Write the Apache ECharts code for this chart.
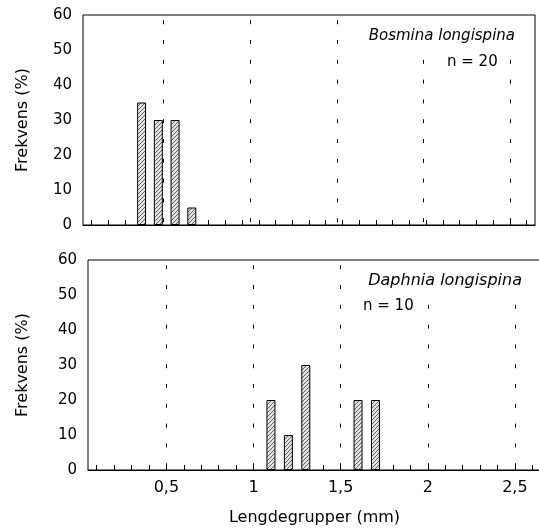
<!DOCTYPE html>
<html>
<head>
<meta charset="UTF-8">
<title></title>
<script src="https://cdn.jsdelivr.net/npm/echarts@6/dist/echarts.min.js"></script>
<style>
body{margin:0;background:#fff;}
</style>
</head>
<body>
<div id="main" style="width:539px;height:530px;"></div>
<script type="text/javascript">
// lengdegrupper (mm) for hvert panel
var lengthsTop = [0.1,0.2,0.3,0.4,0.5,0.6,0.7,0.8,0.9,1,1.1,1.2,1.3,1.4,1.5,1.6,1.7,1.8,1.9,2,2.1,2.2,2.3,2.4,2.5,2.6,2.7];
var lengthsBottom = [0.1,0.2,0.3,0.4,0.5,0.6,0.7,0.8,0.9,1,1.1,1.2,1.3,1.4,1.5,1.6,1.7,1.8,1.9,2,2.1,2.2,2.3,2.4,2.5,2.6];
// Bosmina longispina, n = 20
var bosminaBins = [0.4, 0.5, 0.6, 0.7];
var bosminaPct = [35, 30, 30, 5];
// Daphnia longispina, n = 10
var daphniaBins = [1.1, 1.2, 1.3, 1.6, 1.7];
var daphniaPct = [20, 10, 30, 20, 20];
var yTicks = [0, 10, 20, 30, 40, 50, 60];
var refLines = [0.5, 1, 1.5, 2, 2.5];//stiplede linjer

var FONT = 'DejaVu Sans';

function binData(cats, bins, vals) {
    return cats.map(function (c) {
        var i = bins.indexOf(c);
        return i < 0 ? '-' : vals[i];
    });
}

// skravert fyll
var hatch = document.createElement('canvas');
hatch.width = 4; hatch.height = 4;
var hc = hatch.getContext('2d');
hc.fillStyle = '#e0e0e0';
hc.fillRect(0, 0, 4, 4);
hc.strokeStyle = '#666';
hc.lineWidth = 1;
hc.beginPath();
hc.moveTo(0, 4); hc.lineTo(4, 0);
hc.moveTo(-1, 1); hc.lineTo(1, -1);
hc.moveTo(3, 5); hc.lineTo(5, 3);
hc.stroke();

function catAxis(grid, cats, showLabels) {
    return {
        type: 'category',
        gridIndex: grid,
        data: cats,
        boundaryGap: true,
        axisLine: {show: true, lineStyle: {color: '#000', width: 1}},
        axisTick: {show: true, inside: true, alignWithLabel: true, interval: 0, length: 5, lineStyle: {color: '#000'}},
        axisLabel: {
            show: showLabels,
            color: '#000',
            fontFamily: FONT,
            fontSize: 16,
            margin: 10,
            interval: function (idx, val) { return Math.round(Number(val) * 10) % 5 === 0; },
            formatter: function (v) { return String(v).replace('.', ','); }
        },
        splitLine: {show: false},
        name: showLabels ? 'Lengdegrupper (mm)' : '',
        nameLocation: 'middle',
        nameGap: 40,
        nameTextStyle: {color: '#000', fontFamily: FONT, fontSize: 16}
    };
}

function valAxis(grid, min, max) {
    return {type: 'value', gridIndex: grid, min: min, max: max, show: false};
}

function yAxis(grid, gap) {
    return {
        type: 'value',
        gridIndex: grid,
        min: yTicks[0],
        max: yTicks[yTicks.length - 1],
        interval: 10,
        axisLine: {show: false},
        axisTick: {show: false},
        splitLine: {show: false},
        axisLabel: {color: '#000', fontFamily: FONT, fontSize: 15, margin: 11},
        name: 'Frekvens (%)',
        nameLocation: 'middle',
        nameGap: gap,
        nameTextStyle: {color: '#000', fontFamily: FONT, fontSize: 16}
    };
}

function dashSeries(xIdx, yIdx) {
    return {
        type: 'line',
        xAxisIndex: xIdx,
        yAxisIndex: yIdx,
        data: [],
        silent: true,
        z: 1,
        markLine: {
            silent: true,
            symbol: ['none', 'none'],
            label: {show: false},
            lineStyle: {color: '#000', width: 1, type: [4, 15.8], dashOffset: 17},
            data: refLines.map(function (v) { return {xAxis: v}; })
        }
    };
}

function barSeries(xIdx, yIdx, data) {
    return {
        type: 'bar',
        xAxisIndex: xIdx,
        yAxisIndex: yIdx,
        barWidth: 9,
        z: 3,
        itemStyle: {
            color: {image: hatch, repeat: 'repeat'},
            borderColor: '#000',
            borderWidth: 1
        },
        data: data
    };
}

function label(text, pos, size, italic, bg, pad) {
    var t = {
        text: text,
        padding: pad || 0,
        borderWidth: 0,
        borderColor: 'transparent',
        shadowBlur: 0,
        backgroundColor: bg || 'transparent',
        textStyle: {fontStyle: italic ? 'italic' : 'normal', fontWeight: 'normal', fontSize: size, color: '#000', fontFamily: FONT}
    };
    for (var k in pos) t[k] = pos[k];
    return t;
}

var myChart = echarts.init(document.getElementById('main'));
var option = {
    backgroundColor: '#fff',
    animation: false,
    textStyle: {fontFamily: FONT},
    title: [
        label('Bosmina longispina', {right: 5, top: 16}, 15, true, '#fff', [13, 19, 11, 10]),
        label('n = 20', {left: 447, top: 55}, 15, false),
        label('Daphnia longispina', {right: 0, top: 261}, 16, true, '#fff', [12, 17, 14, 6]),
        label('n = 10', {left: 363, top: 299}, 15, false)
    ],
    grid: [
        {left: 83, top: 15, width: 452, height: 210, show: true, borderColor: '#000', borderWidth: 1, z: 0, outerBoundsMode: 'none'},
        {left: 88, top: 260, width: 453, height: 210, show: true, borderColor: '#000', borderWidth: 1, z: 0, outerBoundsMode: 'none'}
    ],
    xAxis: [
        catAxis(0, lengthsTop, false),
        catAxis(1, lengthsBottom, true),
        valAxis(0, 0.04, 2.64),
        valAxis(1, 0.05, 2.65)
    ],
    yAxis: [yAxis(0, 52), yAxis(1, 57)],
    series: [
        dashSeries(2, 0),
        dashSeries(3, 1),
        barSeries(0, 0, binData(lengthsTop, bosminaBins, bosminaPct)),
        barSeries(1, 1, binData(lengthsBottom, daphniaBins, daphniaPct))
    ]
};
myChart.setOption(option);
</script>
</body>
</html>
